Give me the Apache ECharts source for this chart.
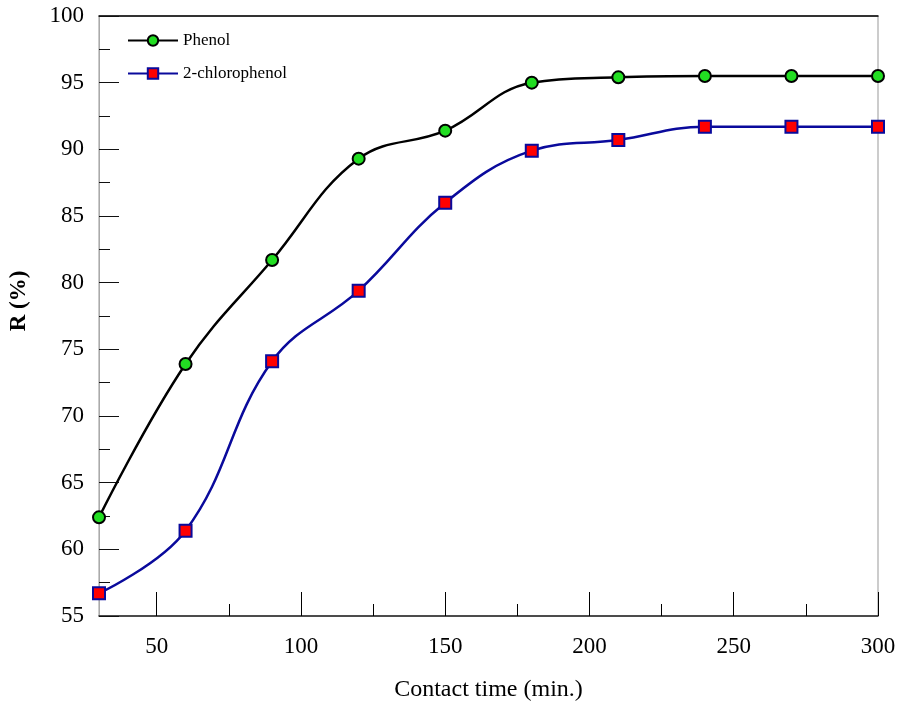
<!DOCTYPE html>
<html lang="en">
<head>
    <meta charset="UTF-8">
    <title>Contact time</title>
    <script src="https://cdn.jsdelivr.net/npm/echarts@6/dist/echarts.min.js"></script>
    <style>
        html, body { margin: 0; padding: 0; background: #fff; }
    </style>
</head>
<body>
<div id="main" style="width: 905px;height:711px;"></div>

<script type="text/javascript">
    // data
    var times = [30, 60, 90, 120, 150, 180, 210, 240, 270, 300];
    var phenol = [62.4, 73.9, 81.7, 89.3, 91.4, 95.0, 95.4, 95.5, 95.5, 95.5];
    var chlorophenol = [56.7, 61.4, 74.1, 79.4, 86.0, 89.9, 90.7, 91.7, 91.7, 91.7];
    var xMajorTicks = [50, 100, 150, 200, 250, 300];
    var xMinorTicks = [75, 125, 175, 225, 275];

    function pairs(xs, ys) {
        return xs.map(function (x, i) { return [x, ys[i]]; });
    }

    var font = 'Liberation Serif';
    var myChart = echarts.init(document.getElementById('main'));

    myChart.setOption({
        animation: false,
        grid: {
            left: 95, right: 27, top: 16, bottom: 95,
            show: true, borderColor: '#999', borderWidth: 1
        },
        legend: {
            orient: 'vertical',
            left: 122, top: 27,
            itemWidth: 50, itemHeight: 13, itemGap: 16,
            textStyle: { fontFamily: font, fontSize: 17, color: '#000' },
            data: ['Phenol', '2-chlorophenol']
        },
        xAxis: [{
            type: 'value', min: 30, max: 300,
            name: 'Contact time (min.)', nameLocation: 'middle', nameGap: 62,
            nameTextStyle: { fontFamily: font, fontSize: 24, color: '#000' },
            axisLine: { lineStyle: { color: '#222', width: 1.5 } },
            axisTick: { show: true, inside: true, length: 24, customValues: xMajorTicks, lineStyle: { color: '#000' } },
            axisLabel: { customValues: xMajorTicks, margin: 19, fontFamily: font, fontSize: 23, color: '#000' },
            splitLine: { show: false }
        }, {
            type: 'value', min: 30, max: 300, position: 'bottom',
            axisLine: { show: false },
            axisTick: { show: true, inside: true, length: 12, customValues: xMinorTicks, lineStyle: { color: '#000' } },
            axisLabel: { show: false },
            splitLine: { show: false }
        }, {
            type: 'value', min: 30, max: 300, position: 'top',
            axisLine: { lineStyle: { color: '#000', width: 1.5 } },
            axisTick: { show: false },
            axisLabel: { show: false },
            splitLine: { show: false }
        }],
        yAxis: {
            type: 'value', min: 55, max: 100, interval: 5,
            name: 'R (%)', nameLocation: 'middle', nameGap: 68, nameRotate: 90,
            nameTextStyle: { fontFamily: font, fontSize: 23, fontWeight: 'bold', color: '#000', padding: [0, 0, 0, 30] },
            axisLine: { show: true, lineStyle: { color: '#aaa' } },
            axisTick: { show: true, inside: true, length: 20, lineStyle: { color: '#111' } },
            minorTick: { show: true, splitNumber: 2, length: 11, lineStyle: { color: '#111' } },
            axisLabel: { margin: 15, fontFamily: font, fontSize: 23, color: '#000' },
            splitLine: { show: false }
        },
        series: [{
            name: 'Phenol',
            type: 'line',
            smooth: 0.4,
            data: pairs(times, phenol),
            symbol: 'circle', symbolSize: 12,
            lineStyle: { color: '#000', width: 2.5 },
            itemStyle: { color: '#22dd22', borderColor: '#000', borderWidth: 2 }
        }, {
            name: '2-chlorophenol',
            type: 'line',
            smooth: 0.4,
            data: pairs(times, chlorophenol),
            symbol: 'rect', symbolSize: 12,
            lineStyle: { color: '#0a0a9c', width: 2.5 },
            itemStyle: { color: '#ff0000', borderColor: '#0a0a9c', borderWidth: 2 }
        }]
    });
</script>
</body>
</html>
